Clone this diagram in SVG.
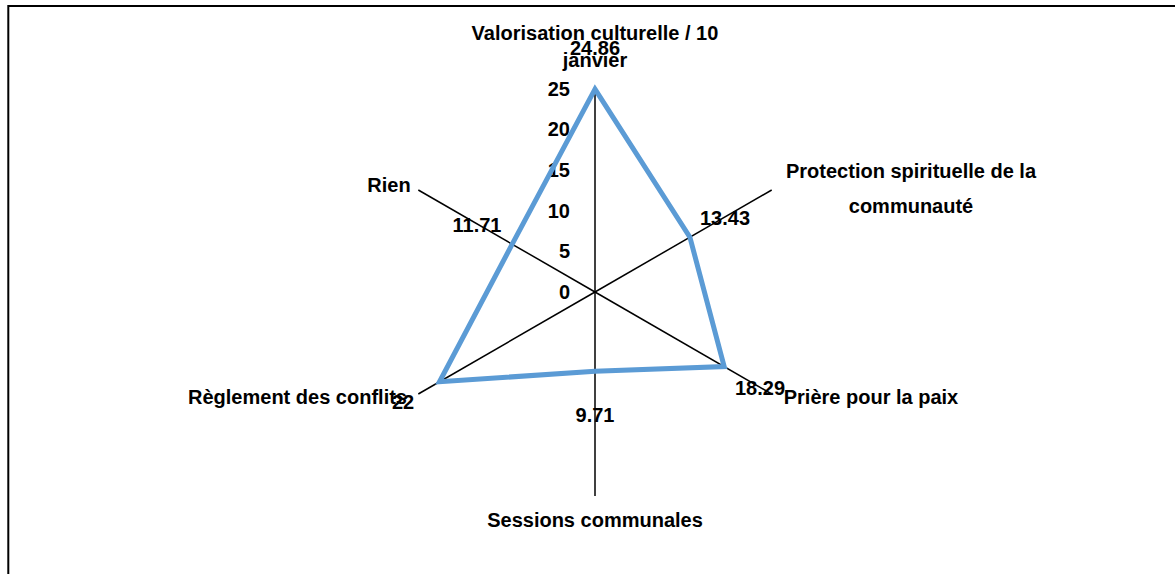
<svg xmlns="http://www.w3.org/2000/svg" width="1175" height="574" viewBox="0 0 1175 574">
  <style>
    text { font-family: "Liberation Sans", Arial, sans-serif; font-weight: bold; font-size: 20px; fill: #000; }
    .c { text-anchor: middle; }
    .r { text-anchor: end; }
    .axis { stroke: #000; stroke-width: 1.5; fill: none; }
    .series { stroke: #5B9BD5; stroke-width: 5; fill: none; stroke-linejoin: miter; }
  </style>
  <rect width="1175" height="574" fill="#fff"/>
  <path d="M8.3,580 V6 H1180" fill="none" stroke="#000" stroke-width="2"/>

  <g id="connectors">
    <line class="axis" x1="595" y1="292" x2="595" y2="88"/>
    <line class="axis" x1="595" y1="292" x2="771.7" y2="190"/>
    <line class="axis" x1="595" y1="292" x2="771.7" y2="394"/>
    <line class="axis" x1="595" y1="292" x2="595" y2="496"/>
    <line class="axis" x1="595" y1="292" x2="418.3" y2="394"/>
    <line class="axis" x1="595" y1="292" x2="418.3" y2="190"/>
  </g>

  <g id="scale">
    <text class="r" x="570" y="299">0</text>
    <text class="r" x="570" y="258">5</text>
    <text class="r" x="570" y="218">10</text>
    <text class="r" x="570" y="177">15</text>
    <text class="r" x="570" y="136">20</text>
    <text class="r" x="570" y="96">25</text>
  </g>

  <g id="series">
    <polygon class="series" points="595,89.1 689.9,237.2 724.2,366.6 595,371.2 439.5,381.8 512.2,244.2"/>
  </g>

  <g id="node-valorisation">
    <text class="c" x="595" y="40">Valorisation culturelle / 10</text>
    <text class="c" x="595" y="67">janvier</text>
    <text class="c" x="595" y="55">24.86</text>
  </g>
  <g id="node-protection">
    <text class="c" x="911" y="178">Protection spirituelle de la</text>
    <text class="c" x="911" y="213">communauté</text>
    <text class="c" x="725" y="225">13.43</text>
  </g>
  <g id="node-priere">
    <text class="c" x="871" y="404">Prière pour la paix</text>
    <text class="c" x="760" y="395">18.29</text>
  </g>
  <g id="node-sessions">
    <text class="c" x="595" y="527">Sessions communales</text>
    <text class="c" x="595" y="422">9.71</text>
  </g>
  <g id="node-reglement">
    <text class="c" x="297.5" y="404">Règlement des conflits</text>
    <text class="c" x="403" y="409">22</text>
  </g>
  <g id="node-rien">
    <text class="c" x="389" y="192">Rien</text>
    <text class="c" x="477" y="232">11.71</text>
  </g>
</svg>
